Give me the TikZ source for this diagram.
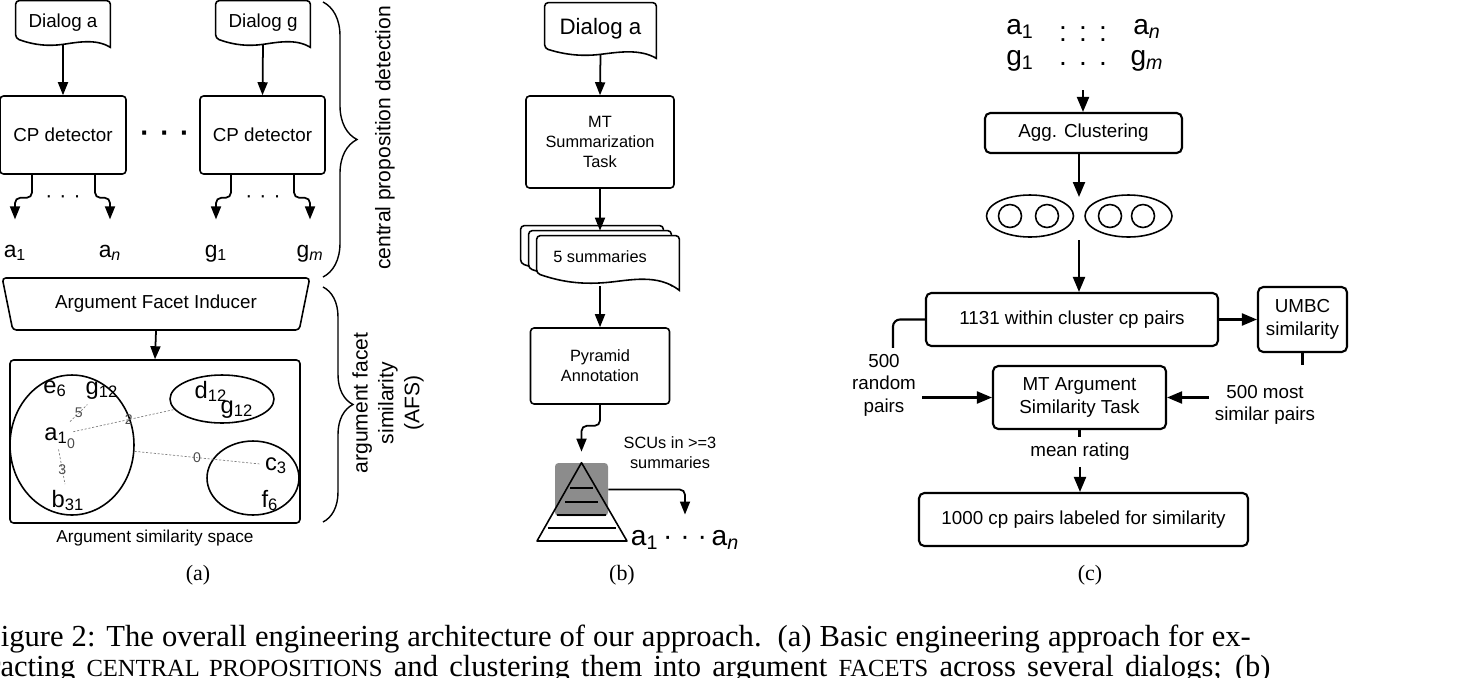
\documentclass[tikz,border=0pt]{standalone}
\usepackage{fontspec}
\setmainfont{Liberation Sans}
\newfontfamily\capfont{Liberation Serif}
\usetikzlibrary{arrows.meta, positioning, shapes.geometric, calc, backgrounds, decorations.pathreplacing}

\newcommand{\fsA}{\fontsize{10.7}{12.8}\selectfont}
\newcommand{\fsB}{\fontsize{12.7}{15}\selectfont}
\newcommand{\fsC}{\fontsize{9.3}{11.3}\selectfont}
\newcommand{\fsS}{\fontsize{9.8}{11.8}\selectfont}
\newcommand{\fsL}{\fontsize{13}{15.6}\selectfont}
\newcommand{\fsE}{\fontsize{13.5}{16}\selectfont}
\newcommand{\fsW}{\fontsize{8}{9.6}\selectfont}
\newcommand{\fsT}{\fontsize{12}{14.7}\selectfont}
\newcommand{\fsP}{\fontsize{16}{19}\selectfont}
\newcommand{\fsO}{\fontsize{16}{19}\selectfont}
\newcommand{\fsSub}{\capfont\fontsize{12.5}{15}\selectfont}
\newcommand{\fsFig}{\capfont\fontsize{17.4}{20.5}\selectfont}
\newcommand{\capsc}[1]{{\fontsize{14}{16}\selectfont #1}}

% document outline drawn behind node #1 (left end lifted #2, right end dropped #3)
\newcommand{\docshape}[3]{%
  \begin{scope}[on background layer]
    \draw[line width=0.9pt, fill=white, rounded corners=2pt]
      ($(#1.south east)+(0,#3)$) -- (#1.north east) -- (#1.north west) -- ($(#1.south west)+(0,-#2)$)
      [sharp corners] .. controls ($(#1.south west)!0.2!(#1.south east)+(0,1)$) and ($(#1.south west)!0.35!(#1.south east)+(0,2)$) .. (#1.south)
      .. controls ($(#1.south west)!0.65!(#1.south east)+(0,-2)$) and ($(#1.south west)!0.85!(#1.south east)+(0,-#2)$) .. ($(#1.south east)+(0,#3)$) -- cycle;
  \end{scope}}

\begin{document}
\begin{tikzpicture}[
  x=0.02cm, y=-0.02cm,
  >={Triangle[length=2.6mm, width=2mm]},
  box/.style={draw, rounded corners=2pt, line width=0.9pt, align=center, font=\fsA},
  boxC/.style={draw, rounded corners=3pt, line width=1.2pt, align=center, font=\fsA},
  doc/.style={inner sep=0pt, align=center, font=\fsA},
  flow/.style={->, line width=1pt},
  flowC/.style={-{Triangle[length=3mm, width=2.4mm]}, line width=1.2pt},
  lineC/.style={line width=1.2pt},
  lbl/.style={font=\fsL, anchor=base, inner sep=0pt},
  elem/.style={font=\fsE, anchor=base, inner sep=3pt},
  cluster/.style={ellipse, draw, line width=0.9pt, inner sep=0pt},
  simline/.style={gray, line width=0.4pt, dash pattern=on 1.2pt off 1pt},
  wlabel/.style={font=\fsW, text=black!70, inner sep=1pt},
  brace/.style={decorate, decoration={brace, amplitude=#1}, line width=0.8pt},
  bracetext/.style={font=\fsT, align=center},
  txt/.style={font=\fsA},
  subcap/.style={font=\fsSub},
  capline/.style={font=\fsFig, inner sep=0pt}
]
  \useasboundingbox (0,0) rectangle (1464,677);

  % (a)
  \node[doc, minimum width=1.88cm, minimum height=0.86cm] (dialA) at (63,22.5) {Dialog a};
  \node[doc, minimum width=1.88cm, minimum height=0.86cm] (dialG) at (263,22.5) {Dialog g};
  \docshape{dialA}{6}{3}
  \docshape{dialG}{6}{3}
  \node[box, minimum width=2.52cm, minimum height=1.56cm] (cpA) at (63,135) {CP detector};
  \node[box, minimum width=2.5cm, minimum height=1.56cm] (cpG) at (262.5,135) {CP detector};
  \node[font=\fontsize{16}{16}\selectfont\bfseries] (cpDots) at (165,137) {·\hspace{6pt}·\hspace{6pt}·};
  \draw[flow] (dialA.south) -- (cpA.north);
  \draw[flow] (dialG.south) -- (cpG.north);

  \node[lbl] (a1) at (15,257) {a\textsubscript{1}};
  \node[lbl] (aN) at (110,257) {a\textsubscript{\textit{n}}};
  \node[lbl] (g1) at (216,257) {g\textsubscript{1}};
  \node[lbl] (gM) at (310,257) {g\textsubscript{\textit{m}}};
  \node[font=\fontsize{12}{12}\selectfont] (dotsA) at (63,199) {·\hspace{4pt}·\hspace{4pt}·};
  \node[font=\fontsize{12}{12}\selectfont] (dotsG) at (263,199) {·\hspace{4pt}·\hspace{4pt}·};
  \draw[flow, rounded corners=3pt, shorten >=0.5cm] ($(cpA.south)+(-31,0)$) -- ++(0,23) -| (a1.north);
  \draw[flow, rounded corners=3pt, shorten >=0.5cm] ($(cpA.south)+(32,0)$) -- ++(0,23) -| (aN.north);
  \draw[flow, rounded corners=3pt, shorten >=0.5cm] ($(cpG.south)+(-31.5,0)$) -- ++(0,23) -| (g1.north);
  \draw[flow, rounded corners=3pt, shorten >=0.5cm] ($(cpG.south)+(31.5,0)$) -- ++(0,23) -| (gM.north);

  \node[draw, trapezium, shape border rotate=180, trapezium angle=75, trapezium stretches=true,
        minimum width=6.16cm, minimum height=1.04cm, rounded corners=2pt, line width=0.9pt, font=\fsA] (afi) at (156,304) {Argument Facet Inducer};
  \node[box, minimum width=5.8cm, minimum height=3.26cm] (space) at (155,441.5) {};
  \node[font=\fsS, below=0pt of space] (spaceLbl) {Argument similarity space};
  \draw[flow] (afi.south) -- (space.north);

  \node[cluster, minimum width=2.48cm, minimum height=2.8cm] (clA) at (72,445) {};
  \node[cluster, minimum width=2.08cm, minimum height=0.96cm] (clD) at (222,399) {};
  \node[cluster, minimum width=1.84cm, minimum height=1.48cm] (clC) at (253,478) {};
  \node[elem] (eE6) at (55,393) {e\textsubscript{6}};
  \node[elem] (eG12) at (102,394) {g\textsubscript{12}};
  \node[elem] (eA1) at (56,440) {a\textsubscript{1}};
  \node[wlabel] (w0) at (71,444) {0};
  \node[elem] (eB31) at (68,507) {b\textsubscript{31}};
  \node[elem] (eD12) at (211,398) {d\textsubscript{12}};
  \node[elem] (eG12b) at (237,413) {g\textsubscript{12}};
  \node[elem] (eC3) at (276,470) {c\textsubscript{3}};
  \node[elem] (eF6) at (270,507) {f\textsubscript{6}};
  \draw[simline] (eA1) -- node[wlabel, pos=0.5] {5} (eG12);
  \draw[simline] (eA1) -- node[wlabel, pos=0.55] {2} (clD);
  \draw[simline] (clA) -- node[wlabel, pos=0.5] {0} (eC3);
  \draw[simline] (eA1) -- node[wlabel, pos=0.57] {3} (eB31);

  \draw[brace=0.68cm] (323,2) -- (323,277);
  \draw[brace=0.6cm] (323,287) -- (323,522);
  \node[bracetext, rotate=90] (cpdText) at (385,138) {central proposition detection};
  \node[bracetext, rotate=90] (afsText) at (388,403) {argument facet\\similarity\\(AFS)};
  \node[subcap] (capA) at (198,575) {(a)};

  % (b)
  \node[doc, font=\fsB, minimum width=2.22cm, minimum height=1.02cm] (dialB) at (600.5,28.5) {Dialog a};
  \docshape{dialB}{6}{4}
  \node[box, font=\fsC, minimum width=2.96cm, minimum height=1.84cm] (mtSum) at (600,142) {MT\\Summarization\\Task};
  \node[doc, minimum width=2.84cm, minimum height=0.92cm] (sumC) at (592,249) {};
  \node[doc, minimum width=2.84cm, minimum height=0.92cm] (sumB) at (600,254) {};
  \node[doc, font=\fsC, minimum width=2.84cm, minimum height=0.92cm] (sumA) at (608,259) {\raisebox{2.8pt}{5 summaries}\hspace{9pt}};
  \docshape{sumC}{9}{8}
  \docshape{sumB}{9}{8}
  \docshape{sumA}{9}{8}
  \node[box, font=\fsC, minimum width=2.78cm, minimum height=1.52cm] (pyr) at (600,366) {Pyramid\\Annotation};
  \coordinate (sumOut) at (600,286);
  \draw[flow] (dialB.south) -- (mtSum.north);
  \draw[flow] (mtSum.south) -- (sumB.north);
  \draw[flow] (sumOut) -- (pyr.north);

  \node[fill=black!45, rounded corners=2pt, minimum size=1.06cm, inner sep=0pt] (topBox) at (581.5,489.5) {};
  \draw[line width=0.9pt, line join=round] (topBox.north) -- (537,541) -- (627,541) -- cycle;
  \foreach \y/\w in {488/11.5, 502/16.5, 515/24.5, 528/34}
    \draw[line width=0.9pt] ({581.5-\w},\y) -- ({581.5+\w},\y);
  \draw[flow, rounded corners=3pt, shorten >=0.22cm] (pyr.south) -- ++(0,21) -| (topBox.north);
  \node[font=\fsC, align=center] (scuNote) at (670,453) {SCUs in >=3\\summaries};
  \node[font=\fsO, anchor=base, inner sep=0pt] (scuOut) at (685,545) {a\textsubscript{1}\,·\hspace{4.5pt}·\hspace{4.5pt}·\,a\textsubscript{\textit{n}}};
  \draw[flow, rounded corners=3pt, shorten >=0.3cm] (topBox.east) -| (scuOut.north);
  \node[subcap] (capB) at (622,575) {(b)};

  % (c)
  \node[font=\fsP, anchor=base] (cA1) at (1020,34) {a\textsubscript{1}};
  \node[font=\fsP, anchor=base] (cDots1) at (1083,34) {\raisebox{-4.2pt}{:\hspace{6.9pt}:\hspace{6.9pt}:}};
  \node[font=\fsP, anchor=base] (cAN) at (1147,34) {a\textsubscript{\textit{n}}};
  \node[font=\fsP, anchor=base] (cG1) at (1020,65) {g\textsubscript{1}};
  \node[font=\fsP, anchor=base] (cDots2) at (1083,65) {.\hspace{6.9pt}.\hspace{6.9pt}.};
  \node[font=\fsP, anchor=base] (cGM) at (1147,65) {g\textsubscript{\textit{m}}};

  \node[boxC, minimum width=3.94cm, minimum height=0.8cm] (agg) at (1083.5,133) {Agg. Clustering};
  \draw[flowC, shorten <=0.38cm] (cDots2.south) -- (cDots2.south |- agg.north);
  \node[cluster, minimum width=1.74cm, minimum height=0.84cm] (grpL) at (1030,216) {};
  \node[cluster, minimum width=1.74cm, minimum height=0.84cm] (grpR) at (1128.5,216) {};
  \foreach \cx [count=\i] in {1010,1047,1110,1143}
    \node[circle, draw, line width=0.9pt, minimum size=0.46cm, inner sep=0pt] (pt\i) at (\cx,216) {};
  \coordinate (grpTop) at (1079,197);
  \coordinate (grpBot) at (1079,240);
  \draw[flowC] (agg.south -| grpTop) -- (grpTop);

  \node[boxC, minimum width=5.84cm, minimum height=1.06cm] (within) at (1072,319.5) {1131 within cluster cp pairs};
  \node[boxC, minimum width=1.78cm, minimum height=1.3cm] (umbc) at (1302.5,319.5) {UMBC\\similarity};
  \draw[flowC] (grpBot) -- (grpBot |- within.north);
  \draw[flowC] (within.east) -- (umbc.west);

  \node[boxC, minimum width=3.46cm, minimum height=1.26cm] (mtArg) at (1079.5,397.5) {MT Argument\\Similarity Task};
  \node[txt, align=center] (mostSim) at (1265,405) {500 most\\similar pairs};
  \node[txt, align=center] (random) at (884,385) {500\\random\\pairs};
  \draw[lineC, shorten >=0.28cm] (umbc.south) -- (umbc.south |- mostSim.north);
  \draw[flowC] (mostSim.west |- mtArg.east) -- (mtArg.east);
  \draw[lineC, rounded corners=4pt] (within.west) -| ($(random.north)+(9,0)$);
  \draw[flowC] (random.east |- mtArg.west) -- (mtArg.west);

  \node[txt] (mean) at (1080,452) {mean rating};
  \node[boxC, minimum width=6.58cm, minimum height=1.06cm] (result) at (1083.5,519.5) {1000 cp pairs labeled for similarity};
  \draw[lineC] (mtArg.south) -- (mtArg.south |- mean.north);
  \draw[flowC] (mean.south) -- (mean.south |- result.north);
  \node[subcap] (capC) at (1090,575) {(c)};

  % caption
  \node[capline, anchor=base east] (capL1) at (1251,646) {\makebox[25.34cm][s]{Figure 2: The overall engineering architecture of our approach.\ \ (a) Basic engineering approach for ex-}};
  \node[capline, anchor=base east] (capL2) at (1271,676) {\makebox[25.78cm][s]{tracting \capsc{CENTRAL PROPOSITIONS} and clustering them into argument \capsc{FACETS} across several dialogs; (b)}};
\end{tikzpicture}
\end{document}
